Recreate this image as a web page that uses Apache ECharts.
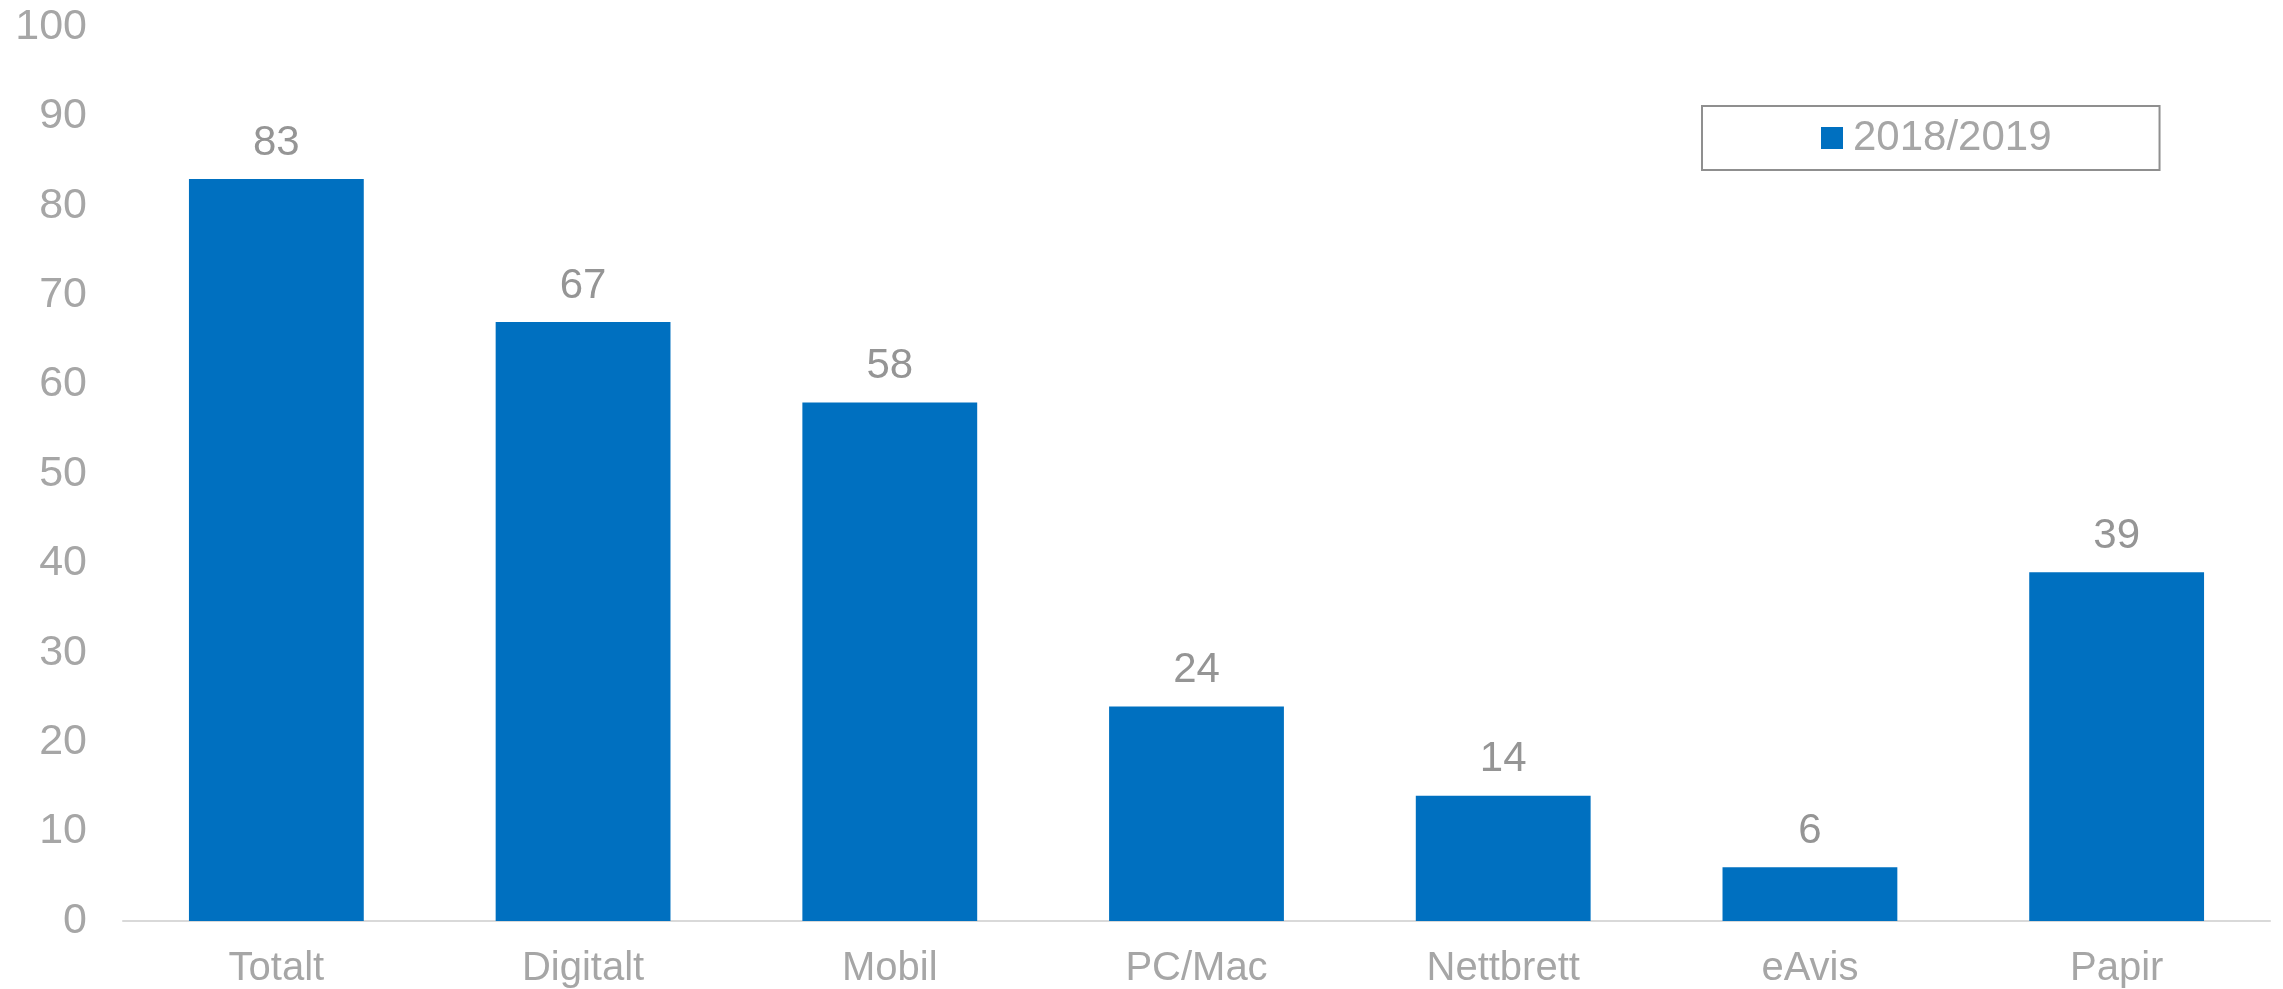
<!DOCTYPE html>
<html>
<head>
<meta charset="utf-8">
<script src="https://cdn.jsdelivr.net/npm/echarts@6/dist/echarts.min.js"></script>
<style>
  html, body { margin: 0; padding: 0; background: #ffffff; }
  #chart { width: 2283px; height: 989px; }
</style>
</head>
<body>
<div id="chart"></div>
<script>
// Andel lesere per plattform
const categories = ['Totalt', 'Digitalt', 'Mobil', 'PC/Mac', 'Nettbrett', 'eAvis', 'Papir'];
const values = [83, 67, 58, 24, 14, 6, 39];
const seriesName = '2018/2019';
const yTicks = { min: 0, max: 100, interval: 10 };

const FONT = '"Liberation Sans", Arial, sans-serif';
const GREY = '#A6A6A6';

const chart = echarts.init(document.getElementById('chart'), null, { renderer: 'canvas' });
chart.setOption({
  animation: false,
  backgroundColor: '#ffffff',
  textStyle: { fontFamily: FONT },
  grid: { left: 123, right: 13, top: 27, bottom: 66, containLabel: false },
  legend: {
    data: [{ name: seriesName, icon: 'rect' }],
    left: 1702,
    top: 106,
    orient: 'horizontal',
    itemWidth: 22,
    itemHeight: 22,
    padding: [11, 108, 11, 119],
    borderColor: '#8f8f8f',
    borderWidth: 2,
    textStyle: { color: GREY, fontSize: 42, fontFamily: FONT, padding: [4, 0, 0, 5] }
  },
  xAxis: {
    type: 'category',
    data: categories,
    axisLine: { show: true, lineStyle: { color: '#D9D9D9', width: 2 } },
    axisTick: { show: false },
    axisLabel: { color: GREY, fontSize: 40, fontFamily: FONT, margin: 28 },
    splitLine: { show: false }
  },
  yAxis: {
    type: 'value',
    min: yTicks.min,
    max: yTicks.max,
    interval: yTicks.interval,
    axisLine: { show: false },
    axisTick: { show: false },
    splitLine: { show: false },
    axisLabel: { color: GREY, fontSize: 43, fontFamily: FONT, margin: 36, padding: [4, 0, 0, 0] }
  },
  series: [{
    name: seriesName,
    type: 'bar',
    data: values,
    barWidth: '57%',
    itemStyle: { color: '#0070C0' },
    label: {
      show: true,
      position: 'top',
      distance: 15,
      color: '#959595',
      fontSize: 42,
      fontFamily: FONT
    }
  }]
});
</script>
</body>
</html>
